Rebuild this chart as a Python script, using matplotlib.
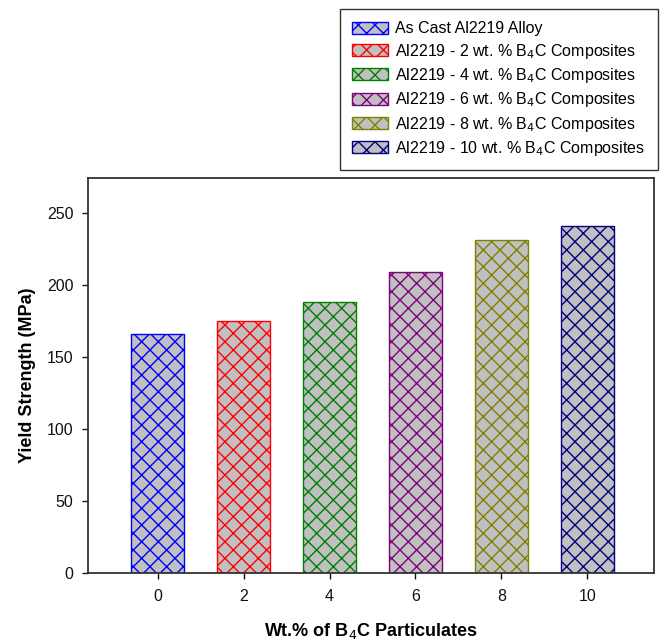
import matplotlib
matplotlib.use("Agg")
import matplotlib.pyplot as plt
from matplotlib.patches import Patch

plt.rcParams['font.family'] = ['Liberation Sans', 'DejaVu Sans']
plt.rcParams['hatch.linewidth'] = 1.0

categories = [0, 2, 4, 6, 8, 10]
values = [165.5, 175, 188, 209, 231, 241]
labels = ["As Cast Al2219 Alloy",
          "Al2219 - 2 wt. % B$_4$C Composites",
          "Al2219 - 4 wt. % B$_4$C Composites",
          "Al2219 - 6 wt. % B$_4$C Composites",
          "Al2219 - 8 wt. % B$_4$C Composites",
          "Al2219 - 10 wt. % B$_4$C Composites"]
colors = ["#0000ff", "#ff0000", "#008000", "#800080", "#808000", "#000080"]
yticks = [0, 50, 100, 150, 200, 250]

fig = plt.figure(figsize=(6.64, 6.42), dpi=100)
ax = fig.add_axes([88/664, 1-573/642, (654-88)/664, (573-178)/642])

handles = []
for x, v, c, lab in zip(categories, values, colors, labels):
    ax.bar(x, v, width=1.22, facecolor="#c0c0c0", edgecolor=c, hatch="xx", linewidth=1.0)
    handles.append(Patch(facecolor="#c0c0c0", edgecolor=c, hatch="xx", linewidth=1.0, label=lab))

ax.set_xlim(-1.62, 11.55)
ax.set_ylim(0, 274)
ax.set_xticks(categories)
ax.set_yticks(yticks)
ax.tick_params(axis='both', direction='out', length=4.5, width=1, labelsize=11.5, colors='#111111')
ax.tick_params(axis='x', pad=7)
ax.tick_params(axis='y', pad=6)
for s in ax.spines.values():
    s.set_linewidth(1.3)
    s.set_color('#333333')

ax.set_ylabel("Yield Strength (MPa)", fontsize=13, fontweight='bold', labelpad=8)
ax.set_xlabel("Wt.% of B$_4$C Particulates", fontsize=13, fontweight='bold', labelpad=12)

leg = fig.legend(handles=handles, loc='upper right', bbox_to_anchor=(658/664, 1-9/642),
                 borderaxespad=0, fontsize=11.5, frameon=True, fancybox=False,
                 edgecolor='black', handlelength=2.25, handleheight=0.78,
                 labelspacing=0.33, handletextpad=0.45, borderpad=0.78)
leg.get_frame().set_linewidth(1.0)

fig.savefig("out.png", dpi=100)
